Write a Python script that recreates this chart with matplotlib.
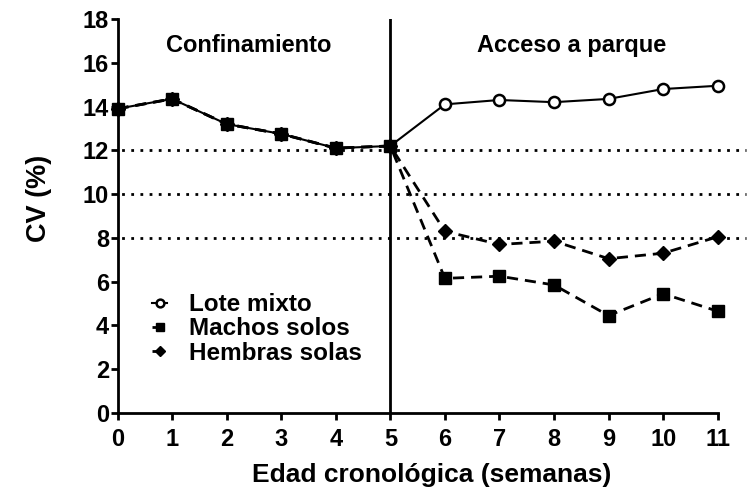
import matplotlib
matplotlib.use("Agg")
import matplotlib.pyplot as plt

plt.rcParams['font.family'] = ['Liberation Sans', 'DejaVu Sans']
plt.rcParams['font.weight'] = 'bold'

weeks = [0, 1, 2, 3, 4, 5, 6, 7, 8, 9, 10, 11]
lote_mixto = [13.9, 14.35, 13.2, 12.75, 12.1, 12.2, 14.1, 14.3, 14.2, 14.35, 14.8, 14.95]
machos_solos = [13.9, 14.35, 13.2, 12.75, 12.1, 12.2, 6.15, 6.25, 5.85, 4.45, 5.45, 4.65]
hembras_solas = [13.9, 14.35, 13.2, 12.75, 12.1, 12.2, 8.3, 7.7, 7.85, 7.05, 7.3, 8.05]
ref_levels = [12, 10, 8]
xticks = list(range(0, 12))
yticks = list(range(0, 19, 2))

fig = plt.figure(figsize=(7.49, 5.0), dpi=100)
ax = fig.add_axes([0.1569, 0.174, 0.8013, 0.788])

for lvl in ref_levels:
    ax.plot([0, 11.52], [lvl, lvl], linestyle=(2, (1, 2.3)), color='black',
            linewidth=2, clip_on=False, zorder=1)

ax.axvline(5, color='black', linewidth=2, zorder=2)

ax.plot(weeks, lote_mixto, '-', color='black', linewidth=1.5, marker='o',
        markersize=8, markerfacecolor='white', markeredgewidth=1.8,
        label='Lote mixto', zorder=3, clip_on=False)
ax.plot(weeks, machos_solos, '--', color='black', linewidth=2, marker='s',
        markersize=8, dashes=(4, 2.5), label='Machos solos', zorder=4, clip_on=False)
ax.plot(weeks, hembras_solas, '--', color='black', linewidth=2, marker='D',
        markersize=7, dashes=(4, 2.5), label='Hembras solas', zorder=5, clip_on=False)

ax.set_xlim(0, 11)
ax.set_ylim(0, 18)
ax.set_xticks(xticks)
ax.set_yticks(yticks)
for s in ['top', 'right']:
    ax.spines[s].set_visible(False)
for s in ['left', 'bottom']:
    ax.spines[s].set_linewidth(2)
ax.tick_params(axis='both', direction='out', width=2, length=5, labelsize=17)
ax.tick_params(axis='x', pad=6)
ax.tick_params(axis='y', pad=1)
for lab in ax.get_xticklabels() + ax.get_yticklabels():
    lab.set_fontweight('bold')

ax.set_xlabel('Edad cronológica (semanas)', fontsize=19, fontweight='bold')
ax.set_ylabel('CV (%)', fontsize=19.5, fontweight='bold')
ax.xaxis.set_label_coords(0.524, -0.158)
ax.yaxis.set_label_coords(-0.13, 0.545)
ax.xaxis.label.set_va('center')
ax.yaxis.label.set_va('center')

ax.text(2.41, 16.8, 'Confinamiento', ha='center', va='center', fontsize=17, fontweight='bold')
ax.text(8.33, 16.8, 'Acceso a parque', ha='center', va='center', fontsize=17, fontweight='bold')

leg = ax.legend(loc='upper left', bbox_to_anchor=(0.058, 0.304), frameon=False,
                prop={'size': 17.5, 'weight': 'bold'}, handlelength=0.6,
                handletextpad=0.9, labelspacing=0.05, markerscale=0.7,
                borderpad=0, borderaxespad=0)

fig.savefig('out.png', dpi=100)
